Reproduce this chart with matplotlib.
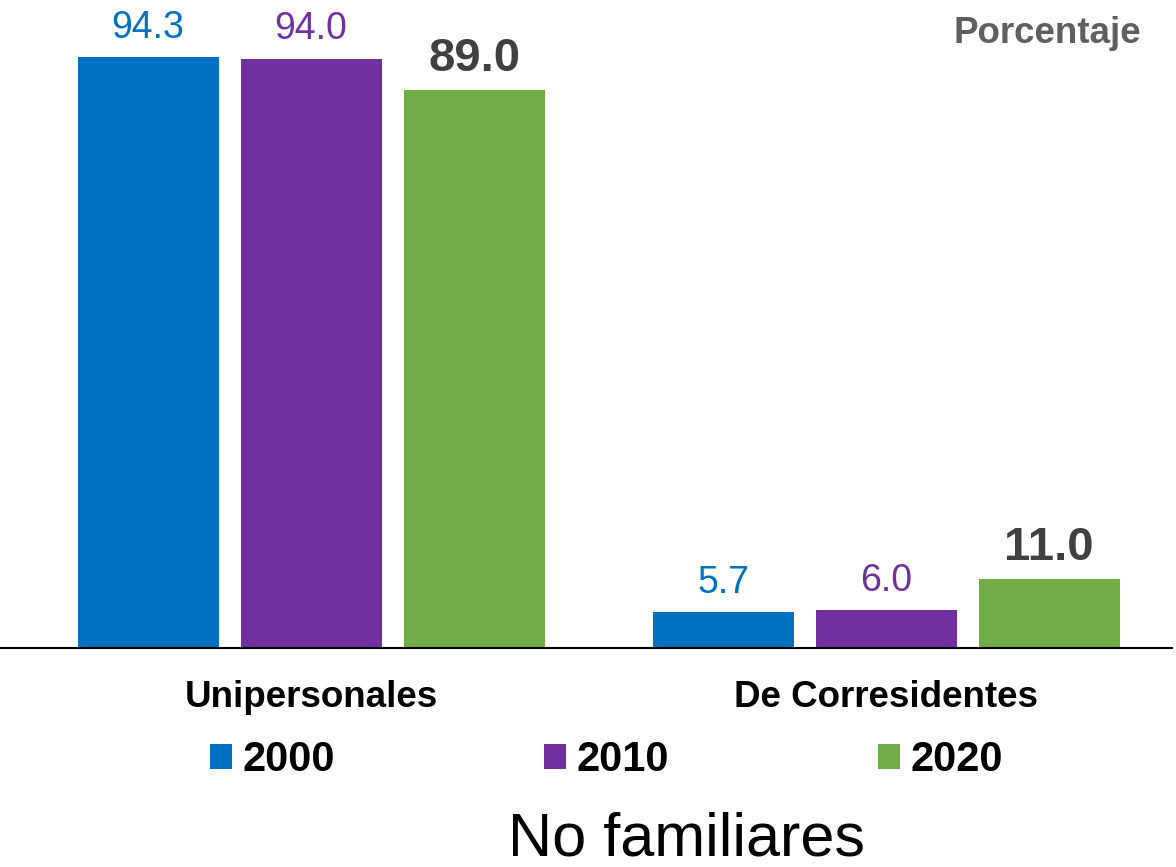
import matplotlib.pyplot as plt
import numpy as np

plt.rcParams['font.family'] = ['Liberation Sans', 'DejaVu Sans']

# Hogares no familiares por tipo, en porcentaje
categories = ['Unipersonales', 'De Corresidentes']
years = ['2000', '2010', '2020']
values_2000 = [94.3, 5.7]
values_2010 = [94.0, 6.0]
values_2020 = [89.0, 11.0]

colors = ['#0070C0', '#7030A0', '#70AD47']
label_colors = ['#0070C0', '#7030A0', '#404040']

fig = plt.figure(figsize=(11.76, 8.67), dpi=100)
ax = fig.add_axes([0, 219 / 867, 1172 / 1176, 648 / 867])

x = np.arange(len(categories))
width = 0.245
offsets = [-0.2835, 0, 0.2835]
series = [values_2000, values_2010, values_2020]

bars = []
for i, (vals, year) in enumerate(zip(series, years)):
    b = ax.bar(x + offsets[i], vals, width, color=colors[i], label=year)
    bars.append(b)
    for xi, v in zip(x + offsets[i], vals):
        if i == 2:
            # el último año va resaltado
            ax.annotate(f'{v:.1f}', (xi, v), xytext=(0, 14), textcoords='offset points',
                        ha='center', va='baseline', fontsize=34, fontweight='bold',
                        color=label_colors[i])
        else:
            ax.annotate(f'{v:.1f}', (xi, v), xytext=(0, 14), textcoords='offset points',
                        ha='center', va='baseline', fontsize=27, color=label_colors[i])

ax.set_xlim(-0.541, 1.497)
ax.set_ylim(0, 103.4)
for s in ['top', 'right', 'left']:
    ax.spines[s].set_visible(False)
ax.spines['bottom'].set_linewidth(1.5)
ax.set_yticks([])
ax.set_xticks(x)
ax.set_xticklabels(categories, fontsize=26.5, fontweight='bold')
ax.tick_params(axis='x', length=0, pad=23)

fig.legend(handles=bars, labels=years, loc='center', ncol=3,
           bbox_to_anchor=(606.5 / 1176, 1 - 760 / 867), frameon=False,
           prop={'weight': 'bold', 'size': 30},
           handlelength=0.53, handleheight=0.53, handletextpad=0.26,
           columnspacing=5.0, borderpad=0)

fig.text(1141 / 1176, 1 - 43 / 867, 'Porcentaje', ha='right', va='baseline',
         fontsize=26.5, fontweight='bold', color='#5f5f5f')
fig.text(687 / 1176, 1 - 855 / 867, 'No familiares', ha='center', va='baseline',
         fontsize=44)

fig.savefig('out.png', dpi=100)
